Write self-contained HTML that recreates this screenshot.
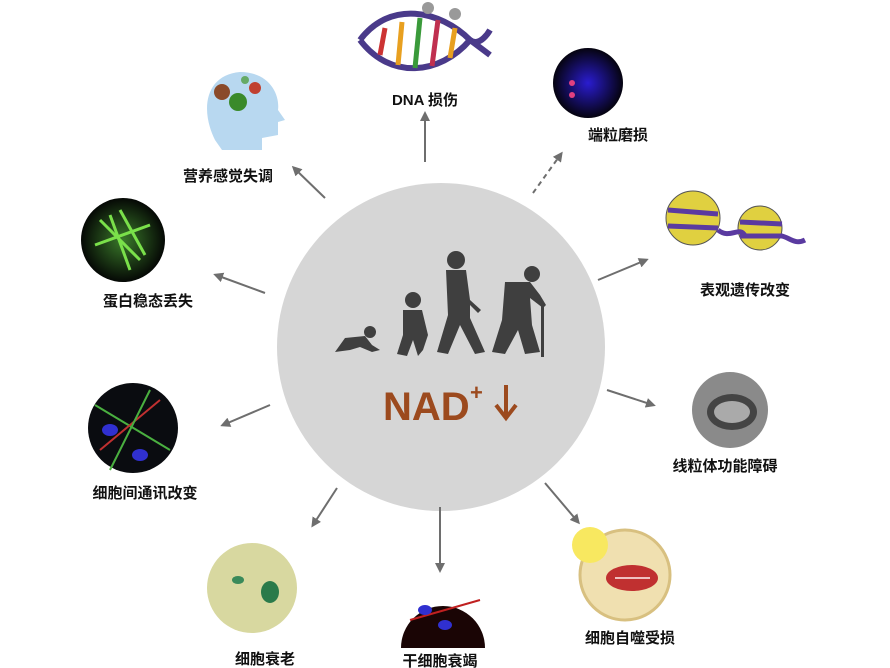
<!DOCTYPE html>
<html><head><meta charset="utf-8"><style>
html,body{margin:0;padding:0;background:#fff;width:890px;height:668px;overflow:hidden}
svg{display:block}
.l{font-family:"Liberation Sans","Noto Sans CJK SC",sans-serif;font-size:15px;font-weight:bold;fill:#111;text-anchor:middle}
</style></head><body>
<svg width="890" height="668" viewBox="0 0 890 668" xmlns="http://www.w3.org/2000/svg">
<defs>
<marker id="a" markerWidth="10" markerHeight="10" refX="7" refY="5" orient="auto" markerUnits="userSpaceOnUse"><path d="M0,0 L10,5 L0,10 Z" fill="#6e6e6e"/></marker>
<radialGradient id="g1"><stop offset="0" stop-color="#2a1cd0"/><stop offset="1" stop-color="#05030f"/></radialGradient>
<radialGradient id="g2"><stop offset="0" stop-color="#3a7a2a"/><stop offset="1" stop-color="#050805"/></radialGradient>
</defs>
<circle cx="441" cy="347" r="164" fill="#d6d6d6"/>
<g fill="#3f3f3f">
<ellipse cx="370" cy="332" rx="6" ry="6"/><path d="M335,352 L345,338 L365,336 L372,345 L380,350 L372,352 L360,347 L350,350 Z"/>
<circle cx="413" cy="300" r="8"/><path d="M403,310 L422,310 L428,335 L423,350 L418,356 L413,340 L407,356 L397,354 L403,335 Z"/>
<circle cx="456" cy="260" r="9"/><path d="M446,270 L466,270 L470,300 L481,310 L478,313 L470,305 L470,318 L485,352 L475,354 L460,325 L448,354 L437,352 L448,315 Z"/>
<circle cx="532" cy="274" r="8"/><path d="M505,282 L530,282 L540,295 L546,305 L543,308 L530,298 L532,325 L540,352 L525,354 L518,330 L505,354 L492,352 L502,320 Z"/>
<rect x="541" y="305" width="3" height="52"/>
</g>
<text x="383" y="420" font-family="Liberation Sans,sans-serif" font-weight="bold" font-size="40" fill="#9c4a1e">NAD</text>
<text x="470" y="400" font-family="Liberation Sans,sans-serif" font-weight="bold" font-size="22" fill="#9c4a1e">+</text>
<path d="M506,385 L506,416 M496,405 L506,418 L516,405" stroke="#9c4a1e" stroke-width="4" fill="none"/>
<g stroke="#6e6e6e" stroke-width="2" fill="none">
<line x1="425" y1="162" x2="425" y2="114" marker-end="url(#a)"/>
<line x1="533" y1="193" x2="561" y2="154" stroke-dasharray="5,4" marker-end="url(#a)"/>
<line x1="325" y1="198" x2="294" y2="168" marker-end="url(#a)"/>
<line x1="598" y1="280" x2="646" y2="260" marker-end="url(#a)"/>
<line x1="265" y1="293" x2="216" y2="275" marker-end="url(#a)"/>
<line x1="607" y1="390" x2="653" y2="405" marker-end="url(#a)"/>
<line x1="270" y1="405" x2="223" y2="425" marker-end="url(#a)"/>
<line x1="337" y1="488" x2="313" y2="525" marker-end="url(#a)"/>
<line x1="440" y1="507" x2="440" y2="570" marker-end="url(#a)"/>
<line x1="545" y1="483" x2="578" y2="522" marker-end="url(#a)"/>
</g>
<g>
<path d="M360,40 C390,0 440,10 470,40 C480,48 490,30 490,30" stroke="#4a3a8a" stroke-width="6" fill="none"/>
<path d="M360,40 C390,80 440,75 470,40 L490,55" stroke="#4a3a8a" stroke-width="6" fill="none"/>
<g stroke-width="5"><line x1="385" y1="28" x2="380" y2="55" stroke="#c33"/><line x1="402" y1="22" x2="398" y2="65" stroke="#e8a020"/><line x1="420" y1="18" x2="415" y2="68" stroke="#3a9a3a"/><line x1="438" y1="20" x2="432" y2="66" stroke="#c03050"/><line x1="455" y1="28" x2="450" y2="58" stroke="#e8a020"/></g>
<circle cx="428" cy="8" r="6" fill="#999"/><circle cx="455" cy="14" r="6" fill="#999"/>
</g>
<text class="l" x="425" y="105">DNA 损伤</text>
<circle cx="588" cy="83" r="35" fill="url(#g1)"/><circle cx="572" cy="83" r="3" fill="#e04080"/><circle cx="572" cy="95" r="3" fill="#e04080"/>
<text class="l" x="618" y="140">端粒磨损</text>
<path d="M215,140 C200,110 205,75 240,72 C270,72 280,95 278,110 L285,120 L278,122 L278,135 L262,138 L262,150 L222,150 Z" fill="#b8d8f0"/>
<circle cx="222" cy="92" r="8" fill="#8a4a2a"/><circle cx="238" cy="102" r="9" fill="#3a8a2a"/><circle cx="255" cy="88" r="6" fill="#c04030"/><circle cx="245" cy="80" r="4" fill="#6a6"/>
<text class="l" x="228" y="181">营养感觉失调</text>
<circle cx="693" cy="218" r="27" fill="#e0d040" stroke="#555"/><circle cx="760" cy="228" r="22" fill="#e0d040" stroke="#555"/>
<g stroke="#5a3aa0" stroke-width="5" fill="none"><path d="M668,210 L718,214"/><path d="M668,226 L718,228"/><path d="M718,230 C730,240 740,225 745,236"/><path d="M740,222 L782,224"/><path d="M740,236 L782,236 C790,238 795,245 805,240"/></g>
<text class="l" x="745" y="295">表观遗传改变</text>
<circle cx="123" cy="240" r="42" fill="url(#g2)"/>
<g stroke="#7ae04a" stroke-width="3"><line x1="100" y1="220" x2="140" y2="260"/><line x1="110" y1="215" x2="130" y2="270"/><line x1="95" y1="245" x2="150" y2="225"/><line x1="120" y1="210" x2="145" y2="255"/></g>
<text class="l" x="148" y="306">蛋白稳态丢失</text>
<circle cx="730" cy="410" r="38" fill="#8a8a8a"/><ellipse cx="732" cy="412" rx="25" ry="18" fill="#444"/><ellipse cx="732" cy="412" rx="18" ry="11" fill="#aaa"/>
<text class="l" x="725" y="471">线粒体功能障碍</text>
<circle cx="133" cy="428" r="45" fill="#0a0c10"/>
<g stroke-width="2" fill="none"><path d="M95,405 L170,450" stroke="#4ab040"/><path d="M100,450 L160,400" stroke="#c03030"/><path d="M110,470 L150,390" stroke="#4ab040"/></g>
<ellipse cx="110" cy="430" rx="8" ry="6" fill="#3030d0"/><ellipse cx="140" cy="455" rx="8" ry="6" fill="#3030d0"/>
<text class="l" x="145" y="498">细胞间通讯改变</text>
<circle cx="252" cy="588" r="45" fill="#d8d8a0"/><ellipse cx="270" cy="592" rx="9" ry="11" fill="#2a7a4a"/><ellipse cx="238" cy="580" rx="6" ry="4" fill="#3a8a5a"/>
<text class="l" x="265" y="664">细胞衰老</text>
<path d="M401,648 A42,42 0 1 1 485,648 Z" fill="#1a0505"/><path d="M410,620 L480,600" stroke="#c02020" stroke-width="2"/><ellipse cx="425" cy="610" rx="7" ry="5" fill="#3030d0"/><ellipse cx="445" cy="625" rx="7" ry="5" fill="#3030d0"/>
<text class="l" x="440" y="666">干细胞衰竭</text>
<circle cx="625" cy="575" r="45" fill="#f0e0b0" stroke="#d8c080" stroke-width="3"/><circle cx="590" cy="545" r="18" fill="#f8e860"/>
<ellipse cx="632" cy="578" rx="26" ry="13" fill="#c03030"/><path d="M615,578 L650,578" stroke="#f0c0c0" stroke-width="2"/>
<text class="l" x="630" y="643">细胞自噬受损</text>
</svg>
</body></html>
